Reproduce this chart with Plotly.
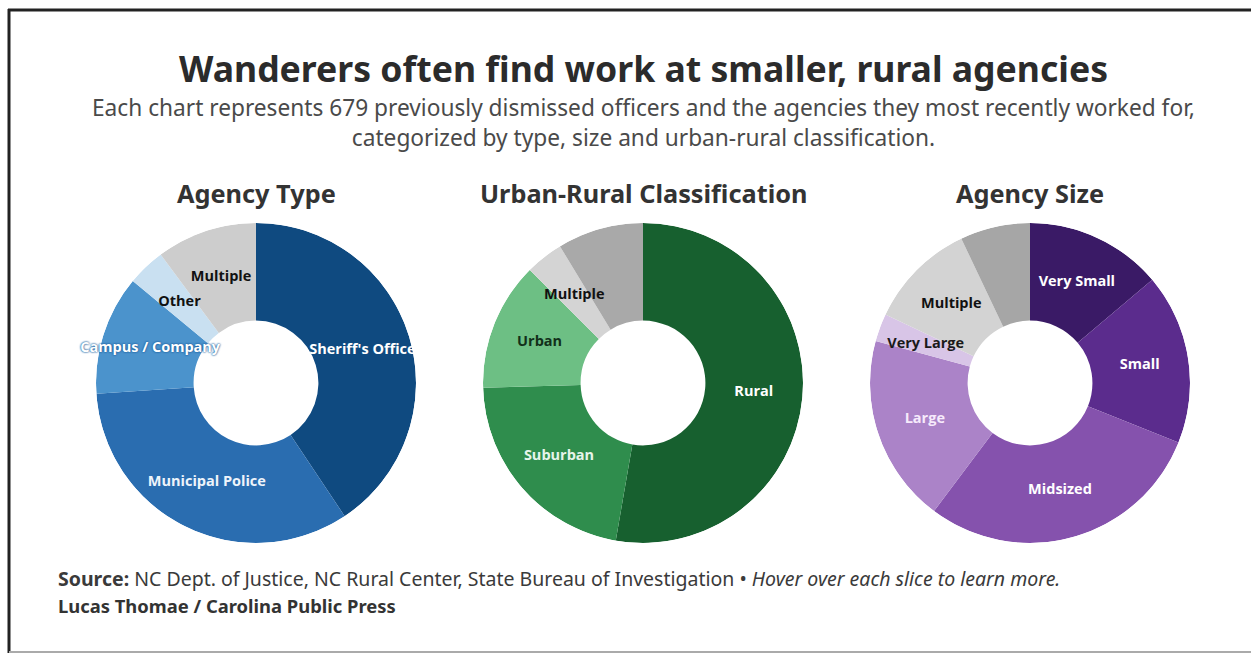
import numpy as np
import plotly.graph_objects as go

W, H = 1251, 653

# ---- data ----
type_labels = ["Sheriff's Office", "Municipal Police", "Campus / Company", "Other", "Multiple"]
type_values = [276, 226, 82, 26, 69]
type_text = ["Sheriff's Office", "Municipal Police", "Campus / Company", "Other", "Multiple"]
type_colors = ["#0f4a80", "#2a6db0", "#4b93cc", "#c9e0f1", "#cdcdcd"]
type_textcolors = ["#ffffff", "#eef4fb", "#ffffff", "#111111", "#111111"]

ur_labels = ["Rural", "Suburban", "Urban", "Multiple", "Unknown"]
ur_values = [358, 148, 88, 26, 59]
ur_text = ["Rural", "Suburban", "Urban", "Multiple", ""]
ur_colors = ["#17602f", "#2f8d4d", "#6dbf84", "#d4d4d4", "#a9a9a9"]
ur_textcolors = ["#ffffff", "#e6f4ea", "#12301a", "#111111", "#111111"]

size_labels = ["Very Small", "Small", "Midsized", "Large", "Very Large", "Multiple", "Unknown"]
size_values = [94, 117, 198, 129, 19, 74, 48]
size_text = ["Very Small", "Small", "Midsized", "Large", "Very Large", "Multiple", ""]
size_colors = ["#3a1a66", "#5b2c8d", "#8552ad", "#ab83c8", "#d8c5e7", "#d3d3d3", "#a6a6a6"]
size_textcolors = ["#ffffff", "#ffffff", "#ffffff", "#f6eafb", "#1a1a1a", "#111111", "#111111"]

chart_titles = ["Agency Type", "Urban-Rural Classification", "Agency Size"]
subtitle_lines = ["Each chart represents 679 previously dismissed officers and the agencies they most recently worked for,",
                  "categorized by type, size and urban-rural classification."]
centers_px = [256, 643, 1030]
radius_px = 160
center_y_px = 383
HOLE = 0.39


def dom(cx):
    return dict(x=[(cx - radius_px) / W, (cx + radius_px) / W],
                y=[1 - (center_y_px + radius_px) / H, 1 - (center_y_px - radius_px) / H])


fig = go.Figure()

series = [
    (type_labels, type_values, type_text, type_colors, type_textcolors),
    (ur_labels, ur_values, ur_text, ur_colors, ur_textcolors),
    (size_labels, size_values, size_text, size_colors, size_textcolors),
]

layout_polars = {}
for i, ((labels, values, text, colors, tcolors), cx, ttl) in enumerate(zip(series, centers_px, chart_titles)):
    pname = "polar" if i == 0 else "polar%d" % (i + 1)
    vals = np.array(values, dtype=float)
    total = vals.sum()
    cum = np.cumsum(vals)
    widths = vals / total * 360
    mid_theta = (cum - vals / 2) / total * 360
    pct = vals / total * 100
    # donut ring as polar bars, one per category
    fig.add_trace(go.Barpolar(
        r=[1 - HOLE] * len(vals), base=[HOLE] * len(vals), theta=mid_theta, width=widths,
        marker=dict(color=colors, line=dict(width=0)),
        customdata=np.stack([labels, values, np.round(pct, 1)], axis=1),
        hovertemplate="<b>%{customdata[0]}</b><br>%{customdata[1]} officers (%{customdata[2]}%)<extra>" + ttl + "</extra>",
        showlegend=False, subplot=pname,
    ))
    shadows = ["0px 0px 2px #1d5f9e, 0px 0px 2px #1d5f9e" if t == "Campus / Company" else "none" for t in text]
    fig.add_trace(go.Scatterpolar(
        r=[(1 + HOLE) / 2] * len(vals), theta=mid_theta, text=text, mode="text",
        textposition="middle center",
        textfont=dict(family="Open Sans", size=14.5, color=tcolors, weight=700, shadow=shadows),
        hoverinfo="skip", showlegend=False, subplot=pname,
    ))
    layout_polars[pname] = dict(
        domain=dom(cx), bgcolor="rgba(0,0,0,0)", hole=0,
        radialaxis=dict(visible=False, range=[0, 1], showgrid=False),
        angularaxis=dict(visible=False, rotation=90, direction="clockwise", showgrid=False),
        bargap=0,
    )

ann = []
ann.append(dict(text="<b>Wanderers often find work at smaller, rural agencies</b>",
                x=643 / W, y=1 - 68 / H, xref="paper", yref="paper", showarrow=False,
                xanchor="center", yanchor="middle",
                font=dict(family="Noto Sans", size=35.6, color="#2b2b2b")))
ann.append(dict(text="<br>".join(subtitle_lines),
                x=643 / W, y=1 - 123 / H, xref="paper", yref="paper", showarrow=False,
                xanchor="center", yanchor="middle", align="center",
                font=dict(family="Noto Sans", size=22.7, color="#4a4a4a")))
for cx, ttl in zip(centers_px, chart_titles):
    ann.append(dict(text="<b>" + ttl + "</b>", x=cx / W, y=1 - 193 / H, xref="paper", yref="paper",
                    showarrow=False, xanchor="center", yanchor="middle",
                    font=dict(family="Noto Sans", size=25.3, color="#333333")))
ann.append(dict(text="<b>Source:</b> NC Dept. of Justice, NC Rural Center, State Bureau of Investigation • <i>Hover over each slice to learn more.</i>",
                x=56 / W, y=1 - 578 / H, xref="paper", yref="paper", showarrow=False,
                xanchor="left", yanchor="middle",
                font=dict(family="Noto Sans", size=19.5, color="#3a3a3a")))
ann.append(dict(text="<b>Lucas Thomae / Carolina Public Press</b>",
                x=56 / W, y=1 - 605 / H, xref="paper", yref="paper", showarrow=False,
                xanchor="left", yanchor="middle",
                font=dict(family="Noto Sans", size=18.4, color="#333333")))

shapes = [
    dict(type="line", xref="paper", yref="paper", x0=8 / W, x1=1, y0=1 - 10 / H, y1=1 - 10 / H,
         line=dict(color="#222222", width=3)),
    dict(type="line", xref="paper", yref="paper", x0=9 / W, x1=9 / W, y0=0, y1=1 - 9 / H,
         line=dict(color="#222222", width=3)),
    dict(type="line", xref="paper", yref="paper", x0=9 / W, x1=1, y0=1 / H, y1=1 / H,
         line=dict(color="#aaaaaa", width=2)),
]

fig.update_layout(
    width=W, height=H, autosize=False,
    margin=dict(l=0, r=0, t=0, b=0),
    paper_bgcolor="#ffffff", plot_bgcolor="#ffffff",
    annotations=ann, shapes=shapes,
    font=dict(family="Noto Sans"),
    **layout_polars,
)

fig.write_html("out.html", config={"displayModeBar": False},
               post_script="document.body.style.margin='0';document.body.style.overflow='hidden';")
